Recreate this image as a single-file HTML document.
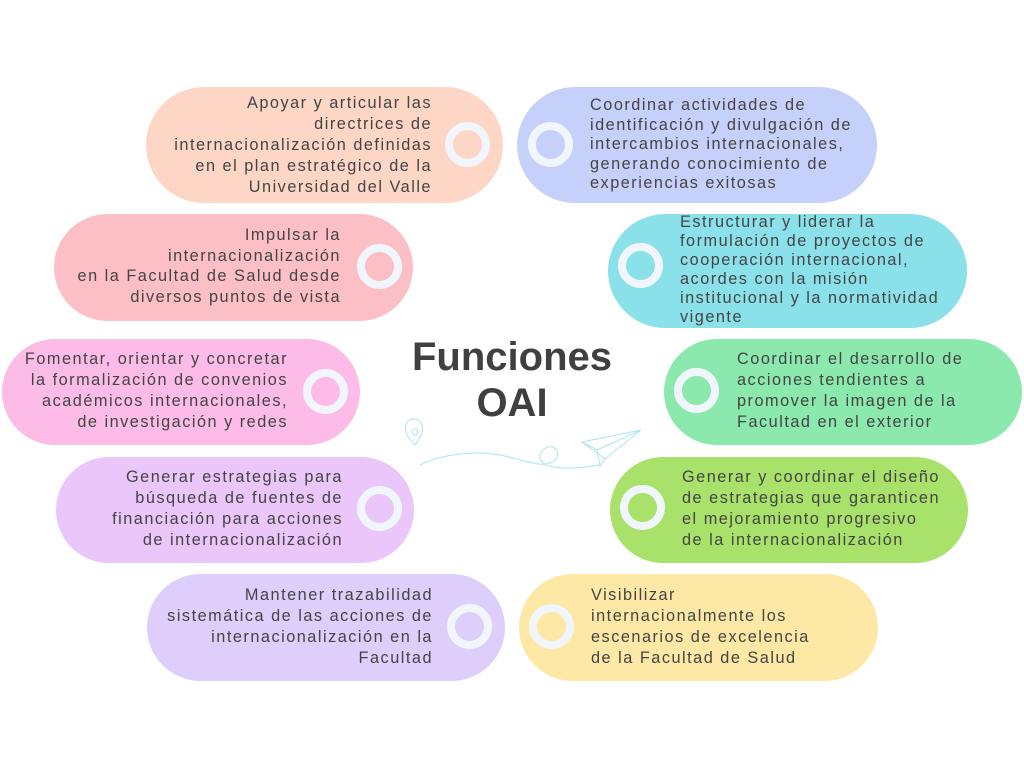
<!DOCTYPE html>
<html><head><meta charset="utf-8"><style>
body{margin:0;width:1024px;height:768px;background:#fff;position:relative;overflow:hidden;font-family:"Liberation Sans",sans-serif;color:#444}
.p{position:absolute;border-radius:60px}
.r{position:absolute;width:29px;height:29px;border:8px solid #f1f6fd;border-radius:50%}
.t{position:absolute;font-size:16.3px;line-height:21px;letter-spacing:1.5px;white-space:nowrap}
.R{text-align:right}
h1{position:absolute;left:362px;width:300px;top:334px;margin:0;text-align:center;font-size:40px;line-height:46px;font-weight:bold;color:#404040;letter-spacing:0}
</style></head><body>
<div class="p" style="left:146px;top:87px;width:357px;height:116px;background:#fdd6c6"></div>
<div class="p" style="left:517px;top:87px;width:360px;height:116px;background:#c6d1fb"></div>
<div class="p" style="left:54px;top:214px;width:359px;height:107px;background:#fdbfc6"></div>
<div class="p" style="left:608px;top:214px;width:359px;height:114px;background:#8be1ea"></div>
<div class="p" style="left:2px;top:339px;width:358px;height:106px;background:#fdbce7"></div>
<div class="p" style="left:664px;top:339px;width:358px;height:106px;background:#8be9ad"></div>
<div class="p" style="left:56px;top:457px;width:358px;height:106px;background:#eac6fb"></div>
<div class="p" style="left:610px;top:457px;width:358px;height:106px;background:#a9e26b"></div>
<div class="p" style="left:147px;top:574px;width:358px;height:107px;background:#ddcefc"></div>
<div class="p" style="left:519px;top:574px;width:359px;height:107px;background:#fde8a6"></div>

<div class="r" style="left:445px;top:122px"></div>
<div class="r" style="left:528px;top:122px"></div>
<div class="r" style="left:357px;top:244px"></div>
<div class="r" style="left:618px;top:243px"></div>
<div class="r" style="left:303px;top:369px"></div>
<div class="r" style="left:674px;top:368px"></div>
<div class="r" style="left:357px;top:486px"></div>
<div class="r" style="left:620px;top:485px"></div>
<div class="r" style="left:447px;top:604px"></div>
<div class="r" style="left:529px;top:604px"></div>

<div class="t R" style="right:592px;top:93px">Apoyar y articular las<br>directrices de<br>internacionalización definidas<br>en el plan estratégico de la<br>Universidad del Valle</div>
<div class="t" style="left:590px;top:96px;line-height:19.5px">Coordinar actividades de<br>identificación y divulgación de<br>intercambios internacionales,<br>generando conocimiento de<br>experiencias exitosas</div>
<div class="t R" style="right:683px;top:225px;line-height:20.7px">Impulsar la<br>internacionalización<br>en la Facultad de Salud desde<br>diversos puntos de vista</div>
<div class="t" style="left:680px;top:213px;line-height:19px">Estructurar y liderar la<br>formulación de proyectos de<br>cooperación internacional,<br>acordes con la misión<br>institucional y la normatividad<br>vigente</div>
<div class="t R" style="right:736px;top:349px">Fomentar, orientar y concretar<br>la formalización de convenios<br>académicos internacionales,<br>de investigación y redes</div>
<div class="t" style="left:737px;top:349px">Coordinar el desarrollo de<br>acciones tendientes a<br>promover la imagen de la<br>Facultad en el exterior</div>
<div class="t R" style="right:681px;top:467px">Generar estrategias para<br>búsqueda de fuentes de<br>financiación para acciones<br>de internacionalización</div>
<div class="t" style="left:682px;top:467px">Generar y coordinar el diseño<br>de estrategias que garanticen<br>el mejoramiento progresivo<br>de la internacionalización</div>
<div class="t R" style="right:591px;top:585px">Mantener trazabilidad<br>sistemática de las acciones de<br>internacionalización en la<br>Facultad</div>
<div class="t" style="left:591px;top:585px">Visibilizar<br>internacionalmente los<br>escenarios de excelencia<br>de la Facultad de Salud</div>

<h1>Funciones<br>OAI</h1>
<svg style="position:absolute;left:0;top:0" width="1024" height="768" fill="none" stroke="#a8e6ee" stroke-width="1">
<path d="M415 445 C408 438 404 432 406 425 C408 417 420 417 422 425 C424 432 420 438 415 445Z"/>
<circle cx="415" cy="432" r="3"/>
<path d="M420 465 C440 455 470 450 500 455 C525 460 545 470 555 460 C565 448 545 440 540 455 C538 470 570 470 600 465"/>
<path d="M582 442 L641 430 L605 459 Z M582 442 L597 450 L600 466 L605 459 M597 450 L641 430"/>
</svg>
</body></html>
